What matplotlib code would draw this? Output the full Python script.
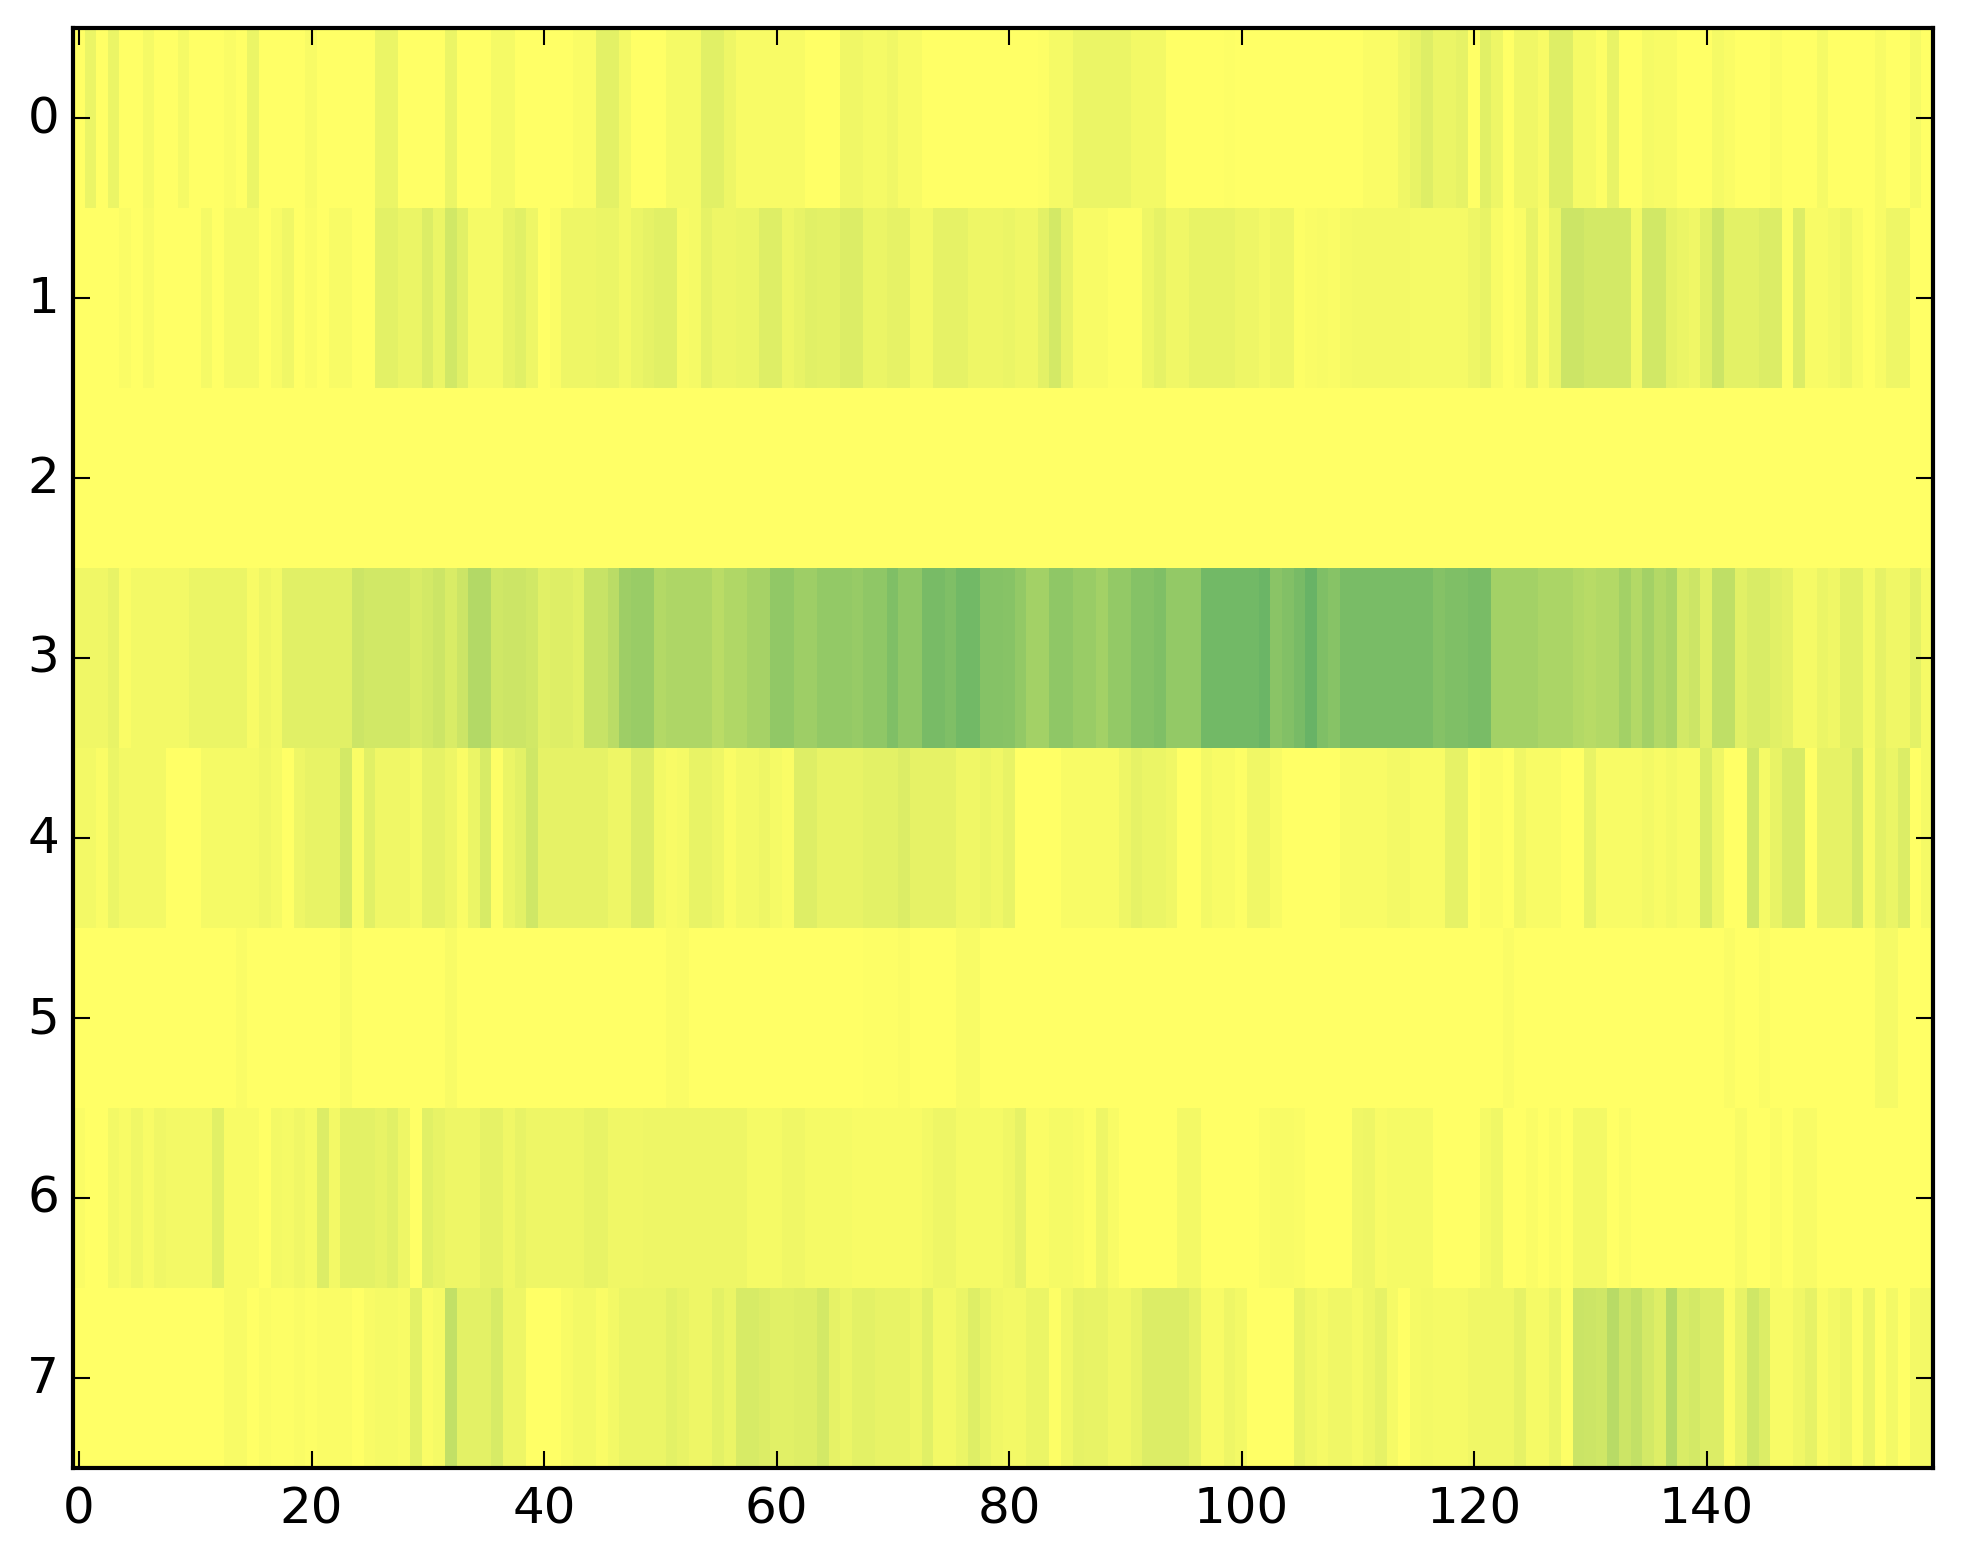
"""Heatmap of 8 channels over 160 time bins, yellow to green."""

import numpy as np
from matplotlib import pyplot as plt

# per cent of the colour scale
row_0 = [0, 8, 0, 8, 0, 0, 4, 0, 0, 4,
         0, 0, 0, 2, 0, 8, 0, 0, 0, 0,
         3, 0, 0, 0, 0, 0, 8, 8, 0, 0,
         0, 0, 8, 0, 0, 0, 4, 4, 0, 0,
         0, 0, 0, 2, 2, 11, 11, 5, 0, 0,
         0, 4, 4, 4, 12, 12, 7, 3, 3, 3,
         3, 3, 3, 0, 0, 0, 6, 6, 4, 4,
         6, 3, 3, 0, 0, 0, 0, 0, 0, 0,
         0, 0, 0, 1, 4, 4, 8, 8, 8, 8,
         8, 5, 5, 5, 0, 0, 0, 0, 0, 1,
         0, 0, 0, 0, 0, 0, 0, 0, 0, 0,
         0, 2, 2, 2, 6, 9, 13, 8, 8, 10,
         0, 12, 7, 0, 6, 6, 3, 13, 13, 4,
         4, 1, 9, 0, 0, 4, 3, 3, 0, 0,
         0, 4, 2, 0, 0, 0, 2, 0, 0, 0,
         4, 0, 0, 0, 0, 3, 0, 0, 4, 0]
row_1 = [0, 0, 0, 0, 2, 0, 3, 0, 0, 0,
         0, 4, 0, 4, 4, 4, 0, 3, 6, 0,
         2, 0, 3, 3, 0, 0, 11, 11, 8, 8,
         14, 8, 18, 12, 4, 4, 4, 9, 12, 7,
         0, 2, 7, 7, 7, 8, 8, 5, 8, 10,
         12, 12, 3, 4, 10, 7, 7, 8, 8, 13,
         13, 7, 9, 12, 11, 11, 14, 14, 8, 8,
         10, 10, 5, 5, 10, 10, 10, 7, 7, 7,
         8, 6, 6, 11, 17, 9, 3, 3, 3, 1,
         1, 1, 7, 10, 6, 6, 9, 9, 9, 9,
         7, 7, 5, 7, 7, 1, 2, 3, 2, 4,
         5, 5, 5, 5, 5, 4, 4, 4, 4, 4,
         7, 9, 3, 0, 2, 9, 2, 8, 20, 20,
         17, 17, 17, 17, 5, 18, 18, 10, 8, 6,
         12, 20, 11, 11, 11, 14, 14, 1, 14, 3,
         3, 5, 7, 3, 0, 3, 7, 7, 0, 0]
row_2 = [0] * 160
row_3 = [6, 6, 6, 9, 2, 5, 5, 5, 5, 5,
         8, 8, 8, 8, 8, 3, 7, 5, 12, 12,
         12, 12, 12, 12, 20, 18, 18, 18, 18, 15,
         17, 20, 15, 20, 30, 30, 19, 20, 20, 18,
         12, 13, 13, 11, 22, 22, 27, 38, 40, 40,
         30, 32, 32, 32, 32, 27, 31, 31, 35, 35,
         43, 43, 38, 38, 42, 42, 42, 41, 44, 44,
         50, 44, 44, 53, 53, 50, 55, 55, 48, 48,
         47, 42, 36, 36, 44, 44, 40, 40, 36, 42,
         42, 48, 48, 50, 42, 42, 42, 55, 55, 55,
         55, 55, 58, 46, 49, 53, 59, 50, 47, 52,
         52, 52, 52, 52, 52, 52, 52, 48, 50, 50,
         52, 52, 36, 36, 36, 36, 33, 33, 33, 30,
         28, 30, 30, 36, 30, 36, 30, 33, 17, 20,
         12, 25, 25, 12, 15, 15, 12, 10, 4, 4,
         8, 6, 11, 11, 4, 10, 6, 6, 11, 4]
row_4 = [5, 5, 2, 8, 5, 5, 5, 5, 0, 0,
         0, 4, 4, 4, 4, 4, 6, 4, 0, 7,
         9, 9, 9, 17, 2, 12, 6, 6, 6, 4,
         10, 10, 7, 2, 8, 16, 1, 8, 11, 19,
         10, 10, 10, 10, 10, 10, 7, 7, 14, 14,
         5, 3, 4, 9, 9, 7, 2, 5, 5, 7,
         4, 2, 13, 13, 9, 9, 9, 9, 11, 11,
         11, 14, 10, 10, 10, 10, 6, 6, 8, 6,
         9, 0, 0, 0, 0, 3, 3, 3, 3, 3,
         7, 10, 8, 8, 6, 0, 0, 5, 3, 3,
         1, 6, 6, 3, 0, 0, 0, 0, 0, 3,
         3, 3, 3, 5, 5, 3, 3, 3, 10, 10,
         0, 2, 2, 0, 6, 3, 3, 3, 0, 0,
         9, 3, 3, 3, 3, 5, 3, 5, 3, 3,
         15, 7, 0, 0, 19, 4, 9, 16, 16, 0,
         10, 10, 10, 17, 3, 11, 8, 14, 0, 4]
row_5 = [0, 0, 0, 0, 0, 0, 0, 0, 0, 0,
         0, 0, 0, 0, 2, 0, 0, 0, 0, 0,
         0, 0, 0, 3, 0, 0, 0, 0, 0, 0,
         0, 0, 3, 0, 0, 0, 0, 0, 0, 0,
         0, 0, 0, 0, 0, 0, 0, 0, 0, 0,
         0, 2, 2, 0, 0, 0, 0, 0, 0, 0,
         0, 0, 0, 0, 0, 0, 0, 0, 1, 1,
         1, 2, 0, 0, 0, 0, 3, 3, 0, 0,
         0, 0, 0, 0, 0, 0, 0, 0, 0, 0,
         0, 0, 0, 0, 0, 0, 0, 0, 0, 0,
         0, 0, 0, 0, 0, 0, 0, 0, 0, 0,
         0, 0, 0, 0, 0, 0, 0, 0, 0, 0,
         0, 0, 0, 2, 0, 0, 0, 0, 0, 0,
         0, 0, 0, 0, 0, 0, 0, 0, 0, 0,
         0, 0, 2, 0, 0, 2, 0, 0, 0, 0,
         0, 0, 0, 0, 0, 4, 4, 0, 0, 0]
row_6 = [2, 0, 0, 5, 3, 6, 3, 6, 5, 5,
         5, 5, 12, 3, 3, 3, 0, 5, 4, 6,
         4, 14, 5, 11, 11, 11, 9, 12, 7, 0,
         12, 9, 7, 7, 7, 10, 10, 6, 9, 7,
         7, 7, 7, 7, 9, 9, 6, 6, 6, 7,
         7, 7, 7, 7, 7, 7, 7, 7, 4, 4,
         4, 6, 6, 4, 4, 4, 4, 3, 3, 3,
         3, 3, 3, 5, 7, 7, 4, 4, 4, 4,
         6, 10, 2, 2, 4, 4, 3, 1, 7, 3,
         0, 0, 0, 0, 0, 5, 5, 0, 0, 0,
         0, 0, 2, 3, 3, 2, 0, 0, 0, 0,
         6, 7, 3, 4, 4, 4, 4, 0, 0, 0,
         0, 4, 6, 0, 0, 2, 0, 2, 0, 5,
         5, 5, 0, 2, 0, 0, 0, 0, 0, 0,
         0, 0, 0, 3, 0, 0, 2, 0, 3, 3,
         0, 0, 0, 0, 0, 0, 0, 0, 0, 0]
row_7 = [0, 0, 0, 0, 0, 0, 0, 0, 0, 0,
         0, 0, 0, 3, 3, 0, 2, 1, 1, 2,
         1, 2, 2, 2, 0, 3, 4, 4, 3, 11,
         2, 4, 24, 11, 11, 11, 16, 7, 7, 0,
         0, 0, 3, 5, 5, 2, 5, 8, 8, 8,
         8, 11, 9, 7, 7, 11, 8, 16, 16, 14,
         12, 12, 13, 13, 17, 10, 8, 11, 11, 9,
         9, 9, 7, 12, 5, 5, 8, 13, 9, 6,
         5, 5, 8, 8, 1, 6, 10, 9, 9, 6,
         6, 9, 14, 14, 14, 14, 10, 3, 3, 7,
         5, 0, 0, 0, 0, 9, 6, 4, 6, 6,
         4, 7, 10, 4, 0, 4, 5, 4, 4, 4,
         6, 6, 6, 6, 10, 4, 4, 8, 1, 21,
         20, 19, 28, 20, 24, 17, 13, 29, 15, 17,
         14, 14, 2, 9, 19, 14, 3, 3, 6, 10,
         2, 5, 7, 1, 8, 0, 5, 0, 5, 5]

x_ticks = [0, 20, 40, 60, 80, 100, 120, 140]
y_ticks = [0, 1, 2, 3, 4, 5, 6, 7]


def plot_heatmap() -> None:
    "Draws the rows as an image with the old matplotlib look"
    plt.style.use('classic')
    data = np.array([row_0, row_1, row_2, row_3, row_4, row_5, row_6, row_7])

    fig = plt.figure(figsize=(1963 / 300, 1564 / 300), dpi=300)
    ax = fig.add_axes([73.3 / 1963, 1 - 1469 / 1564, 1860 / 1963, 1440 / 1564])
    ax.imshow(data, cmap='summer_r', vmin=0, vmax=100, aspect='auto', interpolation='nearest')
    ax.set_xticks(x_ticks)
    ax.set_yticks(y_ticks)
    ax.set_xlim(-0.5, 159.5)
    ax.set_ylim(7.5, -0.5)
    ax.tick_params(axis='y', which='major', pad=3.4)
    fig.savefig('out.png', dpi=300)


def main():
    plot_heatmap()


main()
